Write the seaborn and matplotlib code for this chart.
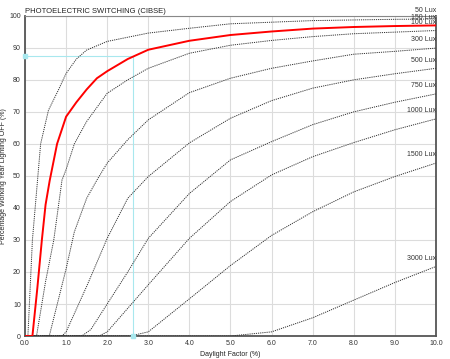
import matplotlib
matplotlib.use("Agg")
import matplotlib.pyplot as plt
import seaborn as sns
import pandas as pd

# curves
lux50_x = [0, 0.07, 0.18, 0.38, 0.57, 0.8, 1.0, 1.25, 1.5, 2.0, 3.0, 4.0, 5.0, 6.0, 7.0, 8.0, 9.0, 10.0]
lux50_y = [0, 0, 30, 60, 70.5, 76.5, 82, 86.5, 89.3, 92, 94.6, 96.1, 97.5, 98, 98.5, 98.7, 98.9, 99]

lux100_x = [0, 0.18, 0.3, 0.41, 0.5, 0.6, 0.78, 1.0, 1.25, 1.5, 1.75, 2.0, 2.5, 3.0, 4.0, 5.0, 6.0, 7.0, 8.0, 9.0, 10.0]
lux100_y = [0, 0, 15, 30, 41, 48.5, 60, 68.5, 73, 77, 80.5, 82.7, 86.5, 89.4, 92.2, 94, 95.1, 96, 96.5, 96.8, 97]

lux150_x = [0, 0.28, 0.5, 0.7, 0.9, 1.0, 1.2, 1.5, 2.0, 2.5, 3.0, 4.0, 5.0, 6.0, 7.0, 8.0, 9.0, 10.0]
lux150_y = [0, 0, 17, 30, 48.7, 52, 60, 67, 75.8, 80, 83.6, 88.3, 90.8, 92.3, 93.5, 94.4, 94.9, 95.4]

lux300_x = [0, 0.59, 1.0, 1.2, 1.5, 1.75, 2.0, 2.5, 3.0, 4.0, 5.0, 6.0, 7.0, 8.0, 9.0, 10.0]
lux300_y = [0, 0, 21, 32.5, 43, 48.7, 54, 61.3, 67.5, 76, 80.5, 83.6, 85.9, 88, 88.9, 89.9]

lux500_x = [0, 0.9, 1.0, 1.5, 2.0, 2.5, 3.0, 4.0, 5.0, 6.0, 7.0, 8.0, 9.0, 10.0]
lux500_y = [0, 0, 1.3, 15.5, 30.5, 43, 49.8, 60.3, 68, 73.5, 77.4, 80, 81.9, 83.6]

lux750_x = [0, 1.38, 1.6, 2.0, 2.5, 3.0, 4.0, 5.0, 6.0, 7.0, 8.0, 9.0, 10.0]
lux750_y = [0, 0, 2, 10, 20, 30.5, 44.5, 55, 60.7, 66, 70, 73, 75.6]

lux1000_x = [0, 1.8, 2.0, 3.0, 4.0, 5.0, 6.0, 7.0, 8.0, 9.0, 10.0]
lux1000_y = [0, 0, 1.3, 16, 30.5, 42, 50.3, 56, 60.4, 64.4, 67.8]

lux1500_x = [0, 2.56, 3.0, 4.0, 5.0, 6.0, 7.0, 8.0, 9.0, 10.0]
lux1500_y = [0, 0, 1.3, 11.6, 22, 31.4, 38.8, 45, 49.8, 54]

lux3000_x = [0, 5.0, 6.0, 7.0, 8.0, 9.0, 10.0]
lux3000_y = [0, 0, 1.3, 5.7, 11.2, 16.7, 21.7]

curve_names = ["50", "100", "150", "300", "500", "750", "1000", "1500", "3000"]
# end labels as they appear on the chart, top to bottom
end_labels = ["50 Lux", "150 Lux", "100 Lux", "300 Lux", "500 Lux", "750 Lux",
              "1000 Lux", "1500 Lux", "3000 Lux"]
highlight = "100"

# design point marked with the cyan guide
guide_df = 2.64
guide_off = 87.5

x_ticks = [0, 1, 2, 3, 4, 5, 6, 7, 8, 9, 10]
y_ticks = [0, 10, 20, 30, 40, 50, 60, 70, 80, 90, 100]

all_x = [lux50_x, lux100_x, lux150_x, lux300_x, lux500_x, lux750_x, lux1000_x, lux1500_x, lux3000_x]
all_y = [lux50_y, lux100_y, lux150_y, lux300_y, lux500_y, lux750_y, lux1000_y, lux1500_y, lux3000_y]

frames = []
for name, xs, ys in zip(curve_names, all_x, all_y):
    frames.append(pd.DataFrame({"df": xs, "off": ys, "lux": name}))
df = pd.concat(frames, ignore_index=True)

sns.set_style("white")
plt.rcParams["font.family"] = ["Liberation Sans", "DejaVu Sans"]

fig = plt.figure(figsize=(4.5, 3.59), dpi=100)
ax = fig.add_axes([0.0556, 0.064, 0.913, 0.892])

ax.set_xlim(0, 10)
ax.set_ylim(0, 100)
ax.set_xticks(x_ticks)
ax.set_yticks(y_ticks)
ax.set_xticklabels([f"{t:.1f}" for t in x_ticks])
ax.set_yticklabels([str(t) for t in y_ticks])
ax.grid(True, color="#dcdcdc", lw=0.8)
ax.set_axisbelow(True)

# cyan guide lines for the selected daylight factor
ax.plot([0, guide_df], [guide_off, guide_off], color="#a8e8ee", lw=0.8, zorder=1)
ax.plot([guide_df, guide_df], [0, guide_off], color="#a8e8ee", lw=0.8, zorder=1)
ax.plot([0, guide_df], [guide_off, 0], ls="none", marker="s", ms=3,
        color="#a8e8ee", clip_on=False, zorder=5)

for name in curve_names:
    sub = df[df["lux"] == name]
    if name == highlight:
        sns.lineplot(data=sub, x="df", y="off", ax=ax, color="red", lw=1.4,
                     sort=False, zorder=4)
    else:
        sns.lineplot(data=sub, x="df", y="off", ax=ax, color="#333333", lw=0.7,
                     linestyle=(0, (1.2, 1.0)), sort=False, zorder=3)

for label, ys in zip(end_labels, all_y):
    ax.text(10, ys[-1] + 1.5, label, ha="right", va="bottom", fontsize=5,
            color="#333333", clip_on=False, zorder=6)

ax.set_xlabel("Daylight Factor (%)", fontsize=5, color="#222222", labelpad=3)
ax.set_ylabel("Percentage Working Year Lighting OFF (%)", fontsize=5,
              color="#222222")
ax.yaxis.set_label_coords(-0.045, 0.5)
ax.set_title("PHOTOELECTRIC SWITCHING (CIBSE)", loc="left", fontsize=5.5,
             color="#222222", pad=2)

ax.tick_params(axis="both", length=0, labelsize=5, colors="#333333", pad=3)
for side in ["left", "bottom", "right"]:
    ax.spines[side].set_color("#555555")
    ax.spines[side].set_linewidth(1.3)
ax.spines["top"].set_color("#888888")
ax.spines["top"].set_linewidth(0.8)

fig.savefig("out.png", dpi=100)
